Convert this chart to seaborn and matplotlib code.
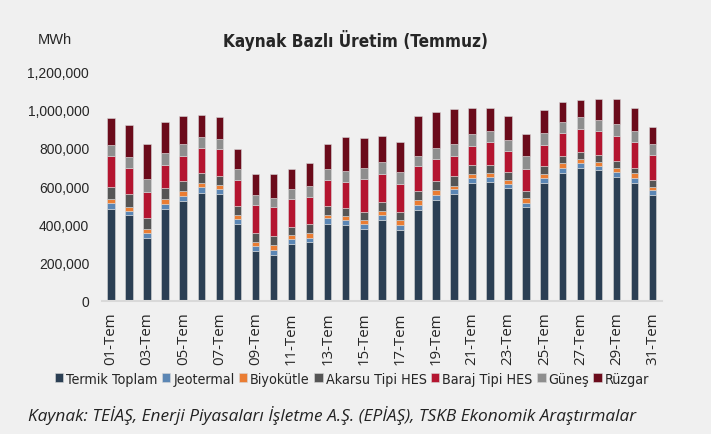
import numpy as np
import pandas as pd
import matplotlib
matplotlib.use('Agg')
import matplotlib.pyplot as plt
import seaborn as sns

# ========== DATA (MWh, per source, July days) ==========
days = [f"{d:02d}-Tem" for d in range(1, 32)]

termik = [482, 451, 331, 482, 524, 565, 560, 404, 263, 242, 296, 310, 404, 395, 377, 424,
          372, 477, 529, 560, 618, 623, 588, 489, 618, 670, 696, 684, 649, 618, 555]
jeotermal = [29, 20, 24, 24, 24, 32, 23, 26, 26, 26, 26, 21, 28, 26, 27, 25,
             23, 26, 26, 25, 24, 24, 24, 24, 24, 24, 23, 21, 26, 24, 23]
biyokutle = [21, 20, 19, 26, 24, 17, 24, 21, 19, 24, 23, 24, 19, 23, 17, 19,
             26, 24, 24, 15, 19, 20, 20, 25, 19, 26, 24, 21, 21, 25, 19]
akarsu = [65, 69, 59, 58, 53, 52, 47, 45, 49, 47, 41, 49, 47, 41, 45, 47,
          42, 45, 46, 54, 49, 45, 41, 34, 42, 35, 35, 35, 35, 29, 35]
baraj = [161, 136, 138, 122, 134, 134, 141, 134, 146, 152, 145, 141, 132, 135, 171, 150,
         149, 134, 118, 105, 101, 118, 112, 117, 113, 122, 121, 128, 132, 134, 132]
gunes = [55, 57, 66, 61, 61, 58, 52, 59, 52, 48, 55, 55, 59, 59, 57, 61,
         60, 53, 56, 61, 61, 59, 57, 66, 63, 59, 60, 57, 61, 59, 56]
ruzgar = [141, 164, 181, 161, 144, 113, 112, 106, 106, 122, 105, 119, 129, 175, 155, 134,
          158, 205, 189, 181, 134, 117, 122, 117, 116, 104, 89, 108, 130, 117, 87]

series_names = ['Termik Toplam', 'Jeotermal', 'Biyokütle', 'Akarsu Tipi HES',
                'Baraj Tipi HES', 'Güneş', 'Rüzgar']
series_vals = [termik, jeotermal, biyokutle, akarsu, baraj, gunes, ruzgar]
colors = ['#2b3f54', '#5b86b4', '#ea7d33', '#555555', '#b41530', '#8e8e8e', '#6b0b1b']

BG = '#f0f0f0'

# ========== PLOT ==========
sns.set_theme(style='white')
plt.rcParams['font.family'] = ['Liberation Sans', 'DejaVu Sans']

fig = plt.figure(figsize=(7.11, 4.35), dpi=100, facecolor=BG)
ax = fig.add_axes([0.143, 0.306, 0.788, 0.528])
ax.set_facecolor(BG)

bottom = np.zeros(len(days))
for name, vals, c in zip(series_names, series_vals, colors):
    v = np.array(vals) * 1000.0
    sns.barplot(x=days, y=v, bottom=bottom, color=c, width=0.42, ax=ax,
                label=name, edgecolor='#d8d8d8', linewidth=0.4, saturation=1)
    bottom += v

ax.set_ylim(0, 1200000)
ax.set_xlim(-0.52, 30.52)
ax.set_yticks(np.arange(0, 1200001, 200000))
ax.set_yticklabels([f"{int(t):,}" for t in ax.get_yticks()], fontsize=10)
ax.set_xticks(range(len(days)))
ax.set_xticklabels([d if i % 2 == 0 else '' for i, d in enumerate(days)],
                   rotation=90, fontsize=10.8, family=['Open Sans', 'DejaVu Sans'])
ax.tick_params(axis='both', length=0)
ax.tick_params(axis='x', pad=7.5)
ax.tick_params(axis='y', pad=9)
ax.set_xlabel('')
ax.set_ylabel('')
for s in ['top', 'right', 'left']:
    ax.spines[s].set_visible(False)
ax.spines['bottom'].set_color('#d9d9d9')
ax.spines['bottom'].set_linewidth(1.5)

fig.text(0.053, 0.907, 'MWh', fontsize=10.5, ha='left', va='center')
fig.text(0.5, 0.907, 'Kaynak Bazlı Üretim (Temmuz)', fontsize=12.3,
         fontweight='bold', fontstretch='condensed', family='DejaVu Sans',
         ha='center', va='center')

handles, labels = ax.get_legend_handles_labels()
ax.legend(handles, labels, loc='center', bbox_to_anchor=(0.495, 0.127),
          bbox_transform=fig.transFigure, ncol=7, frameon=False,
          prop={'family': 'DejaVu Sans', 'stretch': 'condensed', 'size': 10.3},
          handlelength=0.6, handleheight=0.6, handletextpad=0.2, columnspacing=0.3,
          borderaxespad=0)

fig.text(0.039, 0.045,
         'Kaynak: TEİAŞ, Enerji Piyasaları İşletme A.Ş. (EPİAŞ), TSKB Ekonomik Araştırmalar',
         fontsize=12.4, fontstyle='italic', family=['Open Sans', 'DejaVu Sans'],
         ha='left', va='center', color='#222222')

fig.savefig('out.png', dpi=100, facecolor=BG)
